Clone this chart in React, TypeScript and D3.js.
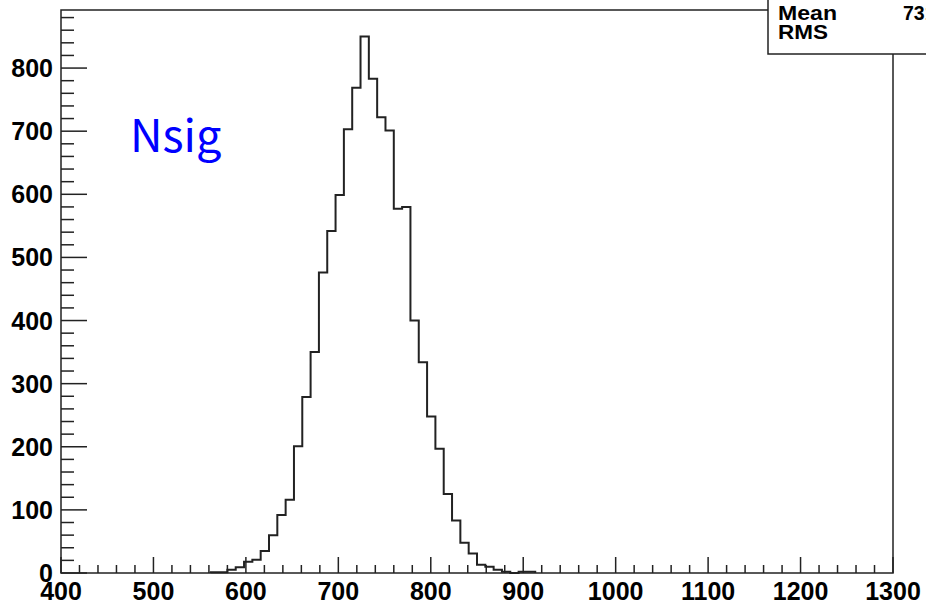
import React from "react";
import * as d3 from "d3";

// Histogram: 100 bins of width 9 from 400 to 1300; non-empty region listed
const binLow: number[] = [
  562, 571, 580, 589, 598, 607, 616, 625, 634, 643, 652, 661, 670, 679, 688, 697, 706, 715,
  724, 733, 742, 751, 760, 769, 778, 787, 796, 805, 814, 823, 832, 841, 850, 859, 868, 877,
  886, 895, 904,
];
const counts: number[] = [
  1, 1, 5, 9, 18, 21, 35, 60, 92, 116, 201, 279, 350, 476, 542, 599, 703, 769,
  850, 783, 722, 701, 577, 580, 400, 334, 248, 197, 125, 83, 48, 31, 13, 10, 5, 2,
  0, 2, 2,
];
const binWidth = 9;
const xDomain: [number, number] = [400, 1300];
const yDomain: [number, number] = [0, 892];
const xMajorTicks: number[] = [400, 500, 600, 700, 800, 900, 1000, 1100, 1200, 1300];
const yMajorTicks: number[] = [0, 100, 200, 300, 400, 500, 600, 700, 800];
const titleText = "Nsig";
const statsLabels: string[] = ["Mean", "RMS"];

const W = 926;
const H = 603;
const L = 61, R = 893, T = 10, B = 573;

export default function App() {
  const x = d3.scaleLinear().domain(xDomain).range([L, R]);
  const y = d3.scaleLinear().domain(yDomain).range([B, T]);

  const xMinor = d3.range(xDomain[0], xDomain[1] + 0.001, 20);
  const yMinor = d3.range(0, yDomain[1], 20);

  type P = [number, number];
  const pts: P[] = [[binLow[0], 0]];
  binLow.forEach((b, i) => pts.push([b, counts[i]]));
  pts.push([binLow[binLow.length - 1] + binWidth, 0]);
  const line = d3
    .line<P>()
    .x((d) => x(d[0]))
    .y((d) => y(d[1]))
    .curve(d3.curveStepAfter);

  const total = d3.sum(counts);
  const mean = d3.sum(binLow, (b, i) => (b + binWidth / 2) * counts[i]) / total;
  const meanStr = d3.format(".4g")(mean);

  const font = "'Liberation Sans', Arial, Helvetica, sans-serif";
  const stroke = "#222";

  return (
    <svg
      width={W}
      height={H}
      style={{ position: "absolute", left: 0, top: 0, background: "#fff" }}
    >
      <rect x={0} y={0} width={W} height={H} fill="#fff" />
      {/* histogram */}
      <path d={line(pts) || ""} fill="none" stroke={stroke} strokeWidth={2} />
      {/* frame */}
      <rect x={L} y={T} width={R - L} height={B - T} fill="none" stroke={stroke} strokeWidth={1.5} />
      {/* x ticks */}
      {xMinor.map((v) => {
        const major = v % 100 === 0;
        return (
          <line
            key={"xt" + v}
            x1={x(v)}
            x2={x(v)}
            y1={B}
            y2={B - (major ? 16 : 8)}
            stroke={stroke}
            strokeWidth={1.5}
          />
        );
      })}
      {/* y ticks */}
      {yMinor.map((v) => {
        const major = v % 100 === 0;
        return (
          <line
            key={"yt" + v}
            x1={L}
            x2={L + (major ? 26 : 13)}
            y1={y(v)}
            y2={y(v)}
            stroke={stroke}
            strokeWidth={1.5}
          />
        );
      })}
      {/* x labels */}
      {xMajorTicks.map((v) => (
        <text
          key={"xl" + v}
          x={x(v)}
          y={600}
          textAnchor="middle"
          fontFamily={font}
          fontWeight="bold"
          fontSize={25}
          fill="#000"
        >
          {v}
        </text>
      ))}
      {/* y labels */}
      {yMajorTicks.map((v) => (
        <text
          key={"yl" + v}
          x={53}
          y={y(v)}
          dy="0.36em"
          textAnchor="end"
          fontFamily={font}
          fontWeight="bold"
          fontSize={25}
          fill="#000"
        >
          {v}
        </text>
      ))}
      {/* title text */}
      <text
        x={130}
        y={152}
        fontFamily="'Noto Sans CJK JP', 'Noto Sans', sans-serif"
        fontSize={45}
        fill="#0000ff"
      >
        {titleText}
      </text>
      {/* stats box */}
      <rect x={768} y={-2} width={170} height={56} fill="#fff" stroke={stroke} strokeWidth={1.5} />
      <text x={778} y={20} fontFamily={font} fontWeight="bold" fontSize={19.5} textLength={59} lengthAdjust="spacingAndGlyphs" fill="#000">
        {statsLabels[0]}
      </text>
      <text x={903} y={20} fontFamily={font} fontWeight="bold" fontSize={19.5} fill="#000">
        {meanStr}
      </text>
      <text x={778} y={39} fontFamily={font} fontWeight="bold" fontSize={19.5} textLength={50} lengthAdjust="spacingAndGlyphs" fill="#000">
        {statsLabels[1]}
      </text>
    </svg>
  );
}
